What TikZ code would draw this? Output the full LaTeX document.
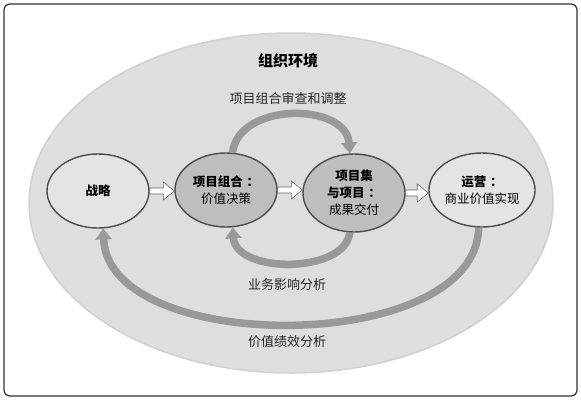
\documentclass[tikz,border=0pt]{standalone}
\usepackage{fontspec}
\setmainfont{Noto Sans CJK SC}
\usepackage{xcolor}
\usepackage{tikz}
\usetikzlibrary{calc}
\usetikzlibrary{shapes.geometric}
\usetikzlibrary{arrows.meta}
\definecolor{envfill}{HTML}{DEDEDE}
\definecolor{lightnode}{HTML}{E4E4E4}
\definecolor{darknode}{HTML}{BEBEBE}
\definecolor{loopgray}{HTML}{999999}
\def\blockarrow#1#2{\draw[blockarr] let \p1=(#1.east), \p2=(#2.west) in
	({\x1},{\y1+3pt})--({\x2-11pt},{\y1+3pt})--({\x2-11pt},{\y1+9pt})--({\x2},{\y1})
	--({\x2-11pt},{\y1-9pt})--({\x2-11pt},{\y1-3pt})--({\x1},{\y1-3pt})--cycle;}
\def\gapcolon{\hspace{0.3em}：}

\begin{document}
\begin{tikzpicture}[x=1pt,y=-1pt,
	phase/.style={ellipse,draw=black!70,line width=1.4pt,minimum width=102pt,minimum height=74pt,inner sep=0pt,align=center,font=\fontsize{12.5}{17}\selectfont},
	blockarr/.style={draw=black!60,fill=white,line width=0.6pt},
	loop/.style={loopgray,line width=7.5pt,-{Triangle[width=16pt,length=11pt]}},
	caption/.style={font=\fontsize{13}{15}\selectfont,text=black!85}]
	\useasboundingbox (0,0) rectangle (581,400);
	\draw[line width=1.2pt,rounded corners=6pt,draw=black!80] (4,4) rectangle (577,396);
	% organisational environment
	\node[ellipse,fill=envfill,draw=black!18,line width=1.5pt,minimum width=524pt,minimum height=340pt] (env) at (291,203) {};
	\node[font=\bfseries\fontsize{15}{17}\selectfont] (envtitle) at (288,61) {组织环境};
	% phases
	\node[phase,fill=lightnode] (strategy) at (98,191) {\textbf{战略}};
	\node[phase,fill=darknode] (portfolio) at (226,190) {\textbf{项目组合\gapcolon}\\价值决策};
	\node[phase,fill=darknode,minimum height=78pt] (programme) at (354,193) {\textbf{项目集}\\\textbf{与项目\gapcolon}\\成果交付};
	\node[phase,fill=lightnode] (operation) at (482,190) {\textbf{运营\gapcolon}\\商业价值实现};
	\blockarrow{strategy}{portfolio}
	\blockarrow{portfolio}{programme}
	\blockarrow{programme}{operation}
	% feedback loops
	\draw[loop] (portfolio.80) .. controls (238,102) and (346,102) .. (programme.96);
	\draw[loop] (programme.-96) .. controls (345,274) and (236,274) .. (portfolio.-80);
	\draw[loop] (operation.-95) .. controls (476,356) and (108,356) .. (strategy.-82);
	\node[caption] (review) at (288,99) {项目组合审查和调整};
	\node[caption] (impact) at (287,285) {业务影响分析};
	\node[caption] (value) at (287,342) {价值绩效分析};
\end{tikzpicture}
\end{document}
